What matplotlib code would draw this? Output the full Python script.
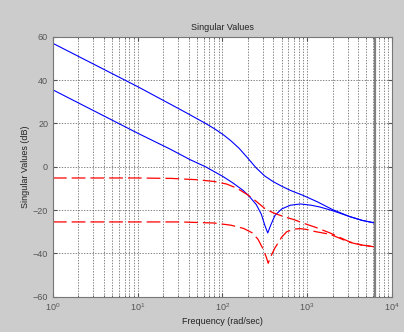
import matplotlib
matplotlib.use("Agg")
import matplotlib.pyplot as plt
import numpy as np

# frequencies as log10(rad/s), values in dB
blue1_logw = [0, 1, 1.5, 1.617, 1.815, 1.92, 2.01, 2.1, 2.2, 2.29, 2.4, 2.5, 2.6, 2.7, 2.8, 2.95, 3.12,
              3.3, 3.5, 3.65, 3.8]
blue1_db = [57, 37, 26.5, 24, 19.7, 17.2, 14.8, 12.0, 8.4, 4.4, -0.6, -4.3, -6.9, -9.0, -10.9, -13.2,
            -16.2, -19.8, -23, -24.8, -26]

blue2_logw = [0, 1, 1.38, 1.617, 1.8, 2.01, 2.12, 2.24, 2.32, 2.4, 2.46, 2.5, 2.535, 2.57, 2.62, 2.7,
              2.8, 2.92, 3.05, 3.15, 3.3, 3.5, 3.65, 3.8]
blue2_db = [35.5, 15.5, 8.2, 3.3, 0, -4.6, -7.4, -10.8, -13.8, -17.5, -22, -27, -30.6, -27, -22.5,
            -19.5, -17.8, -17.2, -17.8, -18.6, -20.3, -23, -24.8, -26]

red1_logw = [0, 1, 1.4, 1.7, 1.9, 2.05, 2.17, 2.3, 2.4, 2.5, 2.6, 2.72, 2.85, 2.95, 3.1, 3.27, 3.5, 3.65, 3.8]
red1_db = [-5.2, -5.2, -5.4, -6, -6.8, -8, -9.9, -13, -16, -19.3, -21.3, -23, -24.5, -26, -28, -30.6,
           -34.7, -36.2, -37]

red2_logw = [0, 1.5, 1.9, 2.1, 2.25, 2.35, 2.42, 2.48, 2.52, 2.54, 2.57, 2.62, 2.7, 2.76, 2.85, 2.92,
             3.0, 3.1, 3.27, 3.5, 3.65, 3.8]
red2_db = [-25.5, -25.5, -26, -27, -28.5, -30.5, -33.5, -38, -42, -44.6, -41.5, -37.5, -32.5, -30,
           -28.8, -28.6, -29, -30, -31.2, -34.9, -36.3, -37]

nyquist = 6283

plt.rcParams['font.family'] = ['Liberation Sans', 'DejaVu Sans']
fig = plt.figure(figsize=(4.04, 3.32), dpi=100, facecolor='#cccccc')
ax = fig.add_axes([0.131, 0.1066, 0.839, 0.7824])

ax.semilogx(10 ** np.array(blue1_logw), blue1_db, color='#0000ff', lw=0.8)
ax.semilogx(10 ** np.array(blue2_logw), blue2_db, color='#0000ff', lw=0.8)
ax.semilogx(10 ** np.array(red1_logw), red1_db, color='#ff0000', lw=0.9, dashes=(11, 4))
ax.semilogx(10 ** np.array(red2_logw), red2_db, color='#ff0000', lw=0.9, dashes=(11, 4))
ax.axvline(nyquist, color='#808080', lw=1.6)

ax.set_xlim(1, 1e4)
ax.set_ylim(-60, 60)
ax.set_yticks(range(-60, 61, 20))
ax.grid(True, which='major', axis='both', color='#555555', ls=(0, (2, 2)), lw=0.5)
ax.grid(True, which='minor', axis='x', color='#555555', ls=(0, (2, 2)), lw=0.5)

ax.tick_params(which='both', direction='in', top=True, right=True, labelsize=6.5,
               labelcolor='#555555', color='#555555')
ax.tick_params(which='major', length=3)
ax.tick_params(which='minor', length=1.5)
for s in ax.spines.values():
    s.set_color('#777777')

ax.set_title('Singular Values', fontsize=6.5, color='#222222', pad=5)
ax.set_xlabel('Frequency (rad/sec)', fontsize=6.5, color='#222222', labelpad=3)
ax.set_ylabel('Singular Values (dB)', fontsize=6.5, color='#222222', labelpad=2)

fig.savefig('out.png', dpi=100, facecolor=fig.get_facecolor())
